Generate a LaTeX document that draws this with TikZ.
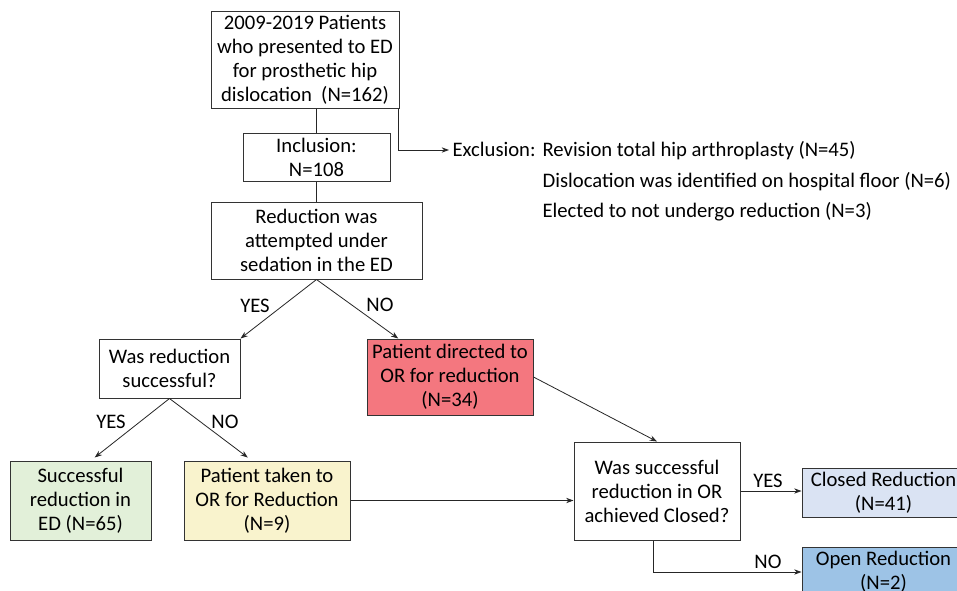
\documentclass[tikz,border=0pt]{standalone}
\usepackage{fontspec}
\setmainfont{Carlito}
\usetikzlibrary{arrows.meta,calc}
\definecolor{redfill}{HTML}{F4777F}
\definecolor{greenfill}{HTML}{E2F0D9}
\definecolor{yellowfill}{HTML}{F9F3CD}
\definecolor{lightblue}{HTML}{DAE3F3}
\definecolor{midblue}{HTML}{9DC3E6}
\begin{document}
\begin{tikzpicture}[x=0.75pt,y=-0.75pt,
  txt/.style={font=\fontsize{15.5}{18}\selectfont, inner sep=1pt},
  box/.style={txt, draw=black!80, line width=0.75pt, align=center, inner sep=0pt},
  conn/.style={line width=0.6pt, draw=black!85},
  arr/.style={conn, -{Stealth[length=5.5pt,width=4pt]}}]
\useasboundingbox (0,0) rectangle (957,590);
\clip (0,0) rectangle (957,590);
\fill[white] (0,0) rectangle (957,590);

\node[box, minimum width=141pt, minimum height=72.75pt] (top) at (305,59.5)
  {2009-2019 Patients\\who presented to ED\\for prosthetic hip\\dislocation\ \ (N=162)};
\node[box, minimum width=110.25pt, minimum height=36pt] (incl) at (316.5,157)
  {Inclusion:\\N=108};
\node[box, minimum width=158.25pt, minimum height=57.75pt] (reduc) at (316.5,240.5)
  {Reduction was\\attempted under\\sedation in the ED};
\node[box, minimum width=105.75pt, minimum height=44.25pt] (was) at (169.5,368.5)
  {Was reduction\\successful?};
\node[box, fill=redfill, minimum width=124.5pt, minimum height=57pt] (redbox) at (450,377)
  {Patient directed to\\OR for reduction\\(N=34)};
\node[box, fill=greenfill, minimum width=105.75pt, minimum height=59.25pt] (green) at (80.5,500.5)
  {Successful\\reduction in\\ED (N=65)};
\node[box, fill=yellowfill, minimum width=124.5pt, minimum height=59.25pt] (yellow) at (267,500.5)
  {Patient taken to\\OR for Reduction\\(N=9)};
\node[box, minimum width=124.5pt, minimum height=73.5pt] (q2) at (657,491)
  {Was successful\\reduction in OR\\achieved Closed?};
\node[box, fill=lightblue, minimum width=122.25pt, minimum height=36.75pt] (closed) at (883.5,492.5)
  {Closed Reduction\\(N=41)};
\node[box, fill=midblue, minimum width=122.25pt, minimum height=37.5pt] (open) at (883.5,572)
  {Open Reduction\\(N=2)};

\node[txt, anchor=base west] (excl) at (451,156) {Exclusion:};
\node[txt, anchor=base west] (ex1) at (541,156) {Revision total hip arthroplasty (N=45)};
\node[txt, anchor=base west] (ex2) at (541,187) {Dislocation was identified on hospital floor (N=6)};
\node[txt, anchor=base west] (ex3) at (541,217) {Elected to not undergo reduction (N=3)};
\coordinate (exclin) at (449,150);

\node[txt] (yes1) at (255,306) {YES};
\node[txt] (no1) at (380,305) {NO};
\node[txt] (yes2) at (111,422) {YES};
\node[txt] (no2) at (225,422) {NO};
\node[txt] (yes3) at (768,481) {YES};
\node[txt] (no3) at (768,562) {NO};

\draw[conn] (top.south -| incl.north) -- (incl.north);
\draw[arr] ([xshift=-1.2pt]top.south east) |- (exclin);
\draw[conn] (incl.south) -- (reduc.north);
\draw[arr] (reduc.south) -- (was.north east);
\draw[arr] (reduc.south) -- ($(redbox.north west)!0.19!(redbox.north east)$);
\draw[arr] (was.south) -- ($(green.north west)!0.6!(green.north east)+(0,-3)$);
\draw[arr] (was.south) -- ($(yellow.north west)!0.385!(yellow.north east)+(0,-3)$);
\draw[arr] (redbox.east) -- (q2.north);
\draw[arr] (yellow.east) -- (yellow.east -| q2.west);
\draw[arr] (q2.east) -- (q2.east -| closed.west);
\draw[arr] ([xshift=-3pt]q2.south) |- (open.west);
\end{tikzpicture}
\end{document}
